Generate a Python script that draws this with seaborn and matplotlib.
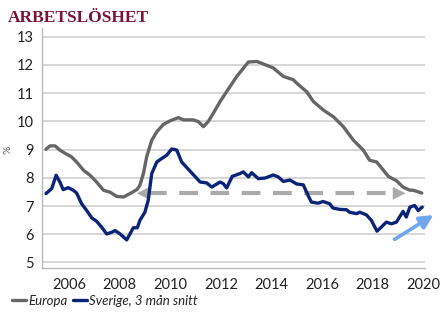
import matplotlib
matplotlib.use("Agg")
import matplotlib.pyplot as plt
import seaborn as sns
import pandas as pd

europa_year = [2005.09, 2005.25, 2005.45, 2005.64, 2005.84, 2006.1, 2006.3, 2006.57, 2006.83,
               2007.09, 2007.36, 2007.62, 2007.89, 2008.15, 2008.41, 2008.68, 2008.8, 2008.94,
               2009.07, 2009.27, 2009.47, 2009.73, 2010.0, 2010.32, 2010.52, 2010.91, 2011.11,
               2011.31, 2011.5, 2011.7, 2011.97, 2012.23, 2012.63, 2013.09, 2013.42, 2013.68,
               2014.07, 2014.47, 2014.87, 2015.0, 2015.39, 2015.66, 2016.05, 2016.45, 2016.84,
               2017.24, 2017.63, 2017.88, 2018.16, 2018.62, 2018.95, 2019.2, 2019.47, 2019.6, 2019.94]
europa_val = [9.01, 9.13, 9.13, 8.98, 8.87, 8.74, 8.56, 8.27, 8.09,
              7.85, 7.56, 7.49, 7.34, 7.32, 7.44, 7.58, 7.73, 8.15,
              8.74, 9.33, 9.63, 9.89, 10.02, 10.13, 10.05, 10.05, 9.99,
              9.81, 9.99, 10.28, 10.70, 11.05, 11.59, 12.10, 12.12, 12.03,
              11.89, 11.59, 11.47, 11.35, 11.05, 10.70, 10.40, 10.16, 9.81,
              9.33, 8.98, 8.62, 8.56, 8.05, 7.89, 7.67, 7.56, 7.56, 7.46]

sverige_year = [2005.09, 2005.32, 2005.49, 2005.64, 2005.77, 2005.97, 2006.17, 2006.3, 2006.5,
                2006.7, 2006.9, 2007.09, 2007.29, 2007.49, 2007.69, 2007.82, 2008.02, 2008.28,
                2008.41, 2008.54, 2008.7, 2008.8, 2009.0, 2009.13, 2009.27, 2009.47, 2009.66,
                2009.86, 2010.06, 2010.26, 2010.45, 2010.72, 2011.18, 2011.44, 2011.64, 2011.97,
                2012.1, 2012.23, 2012.45, 2012.76, 2012.89, 2013.09, 2013.22, 2013.48, 2013.75,
                2014.07, 2014.27, 2014.47, 2014.73, 2015.0, 2015.26, 2015.46, 2015.58, 2015.84,
                2016.04, 2016.3, 2016.43, 2016.7, 2016.96, 2017.09, 2017.36, 2017.49, 2017.75,
                2017.95, 2018.17, 2018.34, 2018.54, 2018.74, 2018.94, 2019.2, 2019.33, 2019.47,
                2019.66, 2019.8, 2019.96]
sverige_val = [7.44, 7.62, 8.09, 7.85, 7.58, 7.65, 7.56, 7.46, 7.08,
               6.84, 6.58, 6.46, 6.25, 6.01, 6.07, 6.13, 6.01, 5.80,
               6.01, 6.23, 6.23, 6.49, 6.78, 7.20, 8.15, 8.56, 8.68,
               8.80, 9.02, 8.98, 8.56, 8.30, 7.85, 7.82, 7.67, 7.85,
               7.79, 7.64, 8.05, 8.15, 8.21, 8.03, 8.18, 7.97, 7.99,
               8.10, 8.03, 7.87, 7.92, 7.78, 7.75, 7.35, 7.14, 7.10,
               7.16, 7.08, 6.93, 6.88, 6.87, 6.78, 6.73, 6.78, 6.69,
               6.49, 6.11, 6.25, 6.43, 6.37, 6.43, 6.81, 6.61, 6.96,
               7.02, 6.84, 6.96]

x_ticks = [2006, 2008, 2010, 2012, 2014, 2016, 2018, 2020]
y_ticks = [5, 6, 7, 8, 9, 10, 11, 12, 13]

# annotation arrows
dash_y = 7.45
dash_left, dash_right = 2008.68, 2019.3
blue_start = (2018.87, 5.82)
blue_end = (2020.4, 6.68)

sns.set_style("white")
plt.rcParams['font.family'] = ['Lato', 'DejaVu Sans']

fig = plt.figure(figsize=(4.46, 3.27), dpi=100)
ax = fig.add_axes([0.094, 0.18, 0.859, 0.734])

df_e = pd.DataFrame({"year": europa_year, "val": europa_val})
df_s = pd.DataFrame({"year": sverige_year, "val": sverige_val})

sns.lineplot(data=df_e, x="year", y="val", ax=ax, color="#666666", lw=2.4, label="Europa", zorder=3)
sns.lineplot(data=df_s, x="year", y="val", ax=ax, color="#0b2478", lw=2.4,
             label="Sverige, 3 mån snitt", zorder=4)

ax.set_xlim(2004.93, 2020.07)
ax.set_ylim(4.8, 13.3)
ax.set_xticks(x_ticks)
ax.set_yticks(y_ticks)
ax.set_xticklabels([str(t) for t in x_ticks], fontsize=10.5, color="#222222")
ax.set_yticklabels([str(t) for t in y_ticks], fontsize=10.5, color="#222222")
ax.grid(axis="y", color="#cccccc", lw=1.1)
ax.set_axisbelow(True)
for s in ["top", "right"]:
    ax.spines[s].set_visible(False)
for s in ["left", "bottom"]:
    ax.spines[s].set_color("#bbbbbb")
    ax.spines[s].set_linewidth(1.0)
ax.tick_params(axis="x", length=3, color="#bbbbbb", direction="out", pad=4)
ax.tick_params(axis="y", length=0, pad=6)
ax.set_xlabel("")
ax.set_ylabel("%", fontsize=7.5, color="#666666")
ax.yaxis.set_label_coords(-0.076, 0.494)

# dashed gray double arrow
head = 0.45
ax.plot([dash_left + head, dash_right - head], [dash_y, dash_y], color="#aaaaaa", lw=3,
        dashes=(4.5, 3), zorder=2, solid_capstyle="butt", dash_capstyle="butt")
for tip, tail in [(dash_left, dash_left + head + 0.05), (dash_right, dash_right - head - 0.05)]:
    ax.annotate("", xy=(tip, dash_y), xytext=(tail, dash_y),
                arrowprops=dict(arrowstyle="-|>,head_length=0.9,head_width=0.45",
                                color="#aaaaaa", lw=0.1, shrinkA=0, shrinkB=0), zorder=2)

# blue trend arrow
ax.annotate("", xy=blue_end, xytext=blue_start, annotation_clip=False,
            arrowprops=dict(arrowstyle="-|>,head_length=0.8,head_width=0.4",
                            color="#6fa6ec", lw=2.6, shrinkA=0, shrinkB=0), zorder=5)

ax.legend_.remove()
handles, labels = ax.get_legend_handles_labels()
fig.legend(handles, labels, loc="lower left", bbox_to_anchor=(0.0, 0.025), ncol=2, frameon=False,
           handlelength=1.1, handletextpad=0.15, columnspacing=0.4,
           prop={"style": "italic", "size": 9.5})

fig.text(0.018, 0.945, "ARBETSLÖSHET", fontsize=12.5, fontweight="bold",
         family="Liberation Serif", color="#7a1434", va="center")

fig.savefig("out.png", dpi=100)
